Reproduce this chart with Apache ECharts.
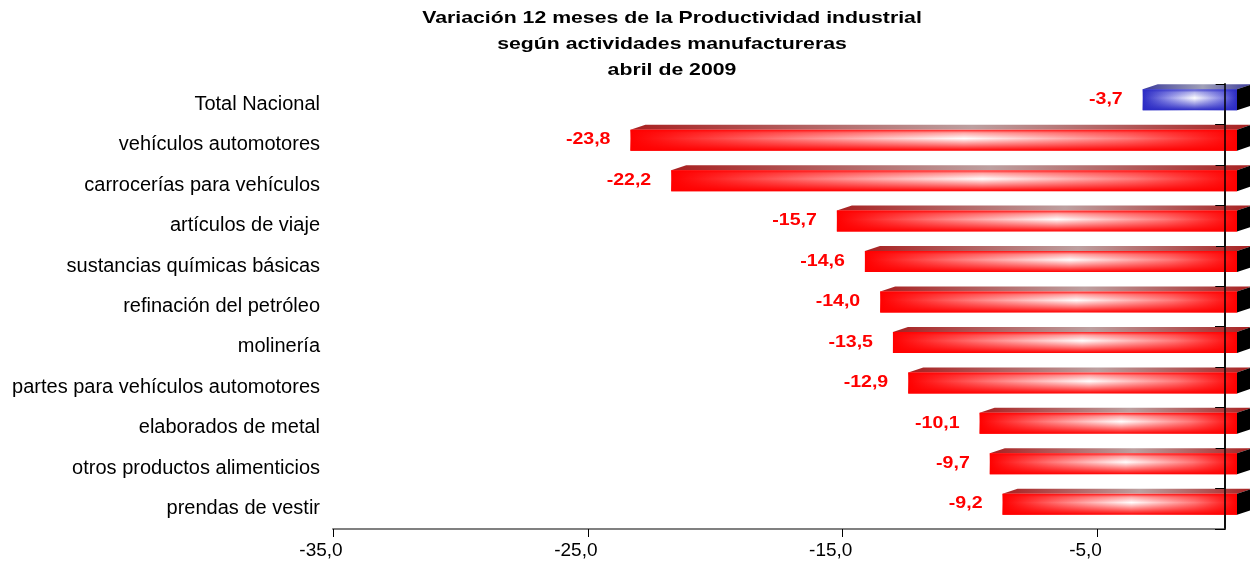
<!DOCTYPE html>
<html>
<head>
<meta charset="utf-8">
<script src="https://cdn.jsdelivr.net/npm/echarts@6/dist/echarts.min.js"></script>
<style>
  html, body { margin: 0; padding: 0; background: #fff; }
  #chart { width: 1250px; height: 562px; }
</style>
</head>
<body>
<div id="chart"></div>
<script>
// datos: variación 12 meses (%)
var categorias = [
    'Total Nacional',
    'vehículos automotores',
    'carrocerías para vehículos',
    'artículos de viaje',
    'sustancias químicas básicas',
    'refinación del petróleo',
    'molinería',
    'partes para vehículos automotores',
    'elaborados de metal',
    'otros productos alimenticios',
    'prendas de vestir'
];
var variacion = [-3.7, -23.8, -22.2, -15.7, -14.6, -14.0, -13.5, -12.9, -10.1, -9.7, -9.2];
var titulo = [
    'Variación 12 meses de la Productividad industrial',
    'según actividades manufactureras',
    'abril de 2009'
];

var fuente = '"Liberation Sans", Arial, sans-serif';

function fmt(v) {
    return v.toFixed(1).replace('.', ',');
}

function lin(x0, y0, x1, y1, stops) {
    return new echarts.graphic.LinearGradient(x0, y0, x1, y1, stops);
}

// barra "3D" dibujada con las escalas del eje
function renderItem(params, api) {
    var v = api.value(0);
    var idx = api.value(1);
    var pv = api.coord([v, idx]);
    var p0 = api.coord([0, idx]);
    var yc = pv[1];
    var sx = 12;           // desplazamiento de la cara frontal
    var dx = 15, dy = 5;   // profundidad
    var x0 = pv[0] + sx, x1 = p0[0] + sx;
    var top = yc - 15, bot = yc + 6;
    var total = categorias[idx] === 'Total Nacional';

    var c = total ? '43,43,196' : '255,0,0';
    var base = 'rgb(' + c + ')';
    var mid = total ? 'rgb(140,140,230)' : 'rgb(255,120,120)';
    var topL = total ? '#3A3A9A' : '#A82020';
    var topM = total ? '#A0A0B8' : '#BCA0A0';

    return {
        type: 'group',
        children: [
            {
                type: 'polygon',
                shape: { points: [[x0, top], [x0 + dx, top - dy], [x1 + dx, top - dy], [x1, top]] },
                style: { fill: lin(0, 0, 1, 0, [{ offset: 0, color: topL }, { offset: 0.55, color: topM }, { offset: 1, color: topL }]) }
            },
            {
                type: 'polygon',
                shape: { points: [[x1, top], [x1 + dx, top - dy], [x1 + dx, bot - dy], [x1, bot]] },
                style: { fill: '#000' }
            },
            {
                type: 'rect',
                shape: { x: x0, y: top, width: x1 - x0, height: bot - top },
                style: { fill: lin(0, 0, 1, 0, [
                    { offset: 0, color: base },
                    { offset: 0.25, color: mid },
                    { offset: 0.55, color: '#FFFFFF' },
                    { offset: 0.82, color: mid },
                    { offset: 1, color: base }
                ]) }
            },
            {
                type: 'rect',
                shape: { x: x0, y: top, width: x1 - x0, height: bot - top },
                style: { fill: lin(0, 0, 0, 1, [
                    { offset: 0, color: 'rgba(' + c + ',0.9)' },
                    { offset: 0.15, color: 'rgba(' + c + ',0.35)' },
                    { offset: 0.42, color: 'rgba(' + c + ',0)' },
                    { offset: 0.75, color: 'rgba(' + c + ',0.55)' },
                    { offset: 1, color: 'rgba(' + c + ',1)' }
                ]) }
            },
            {
                type: 'text',
                x: pv[0] - 8,
                y: yc - 5,
                scaleX: 1.15,
                style: {
                    text: fmt(v),
                    fill: '#FF0000',
                    font: 'bold 17px ' + fuente,
                    align: 'right',
                    verticalAlign: 'middle'
                }
            }
        ]
    };
}

var myChart = echarts.init(document.getElementById('chart'));

var option = {
    animation: false,
    backgroundColor: '#fff',
    graphic: titulo.map(function (t, i) {
        return {
            type: 'text',
            x: 672,
            y: 18 + i * 26,
            scaleX: 1.25,
            style: {
                text: t,
                fill: '#000',
                font: 'bold 17px ' + fuente,
                align: 'center',
                verticalAlign: 'middle'
            }
        };
    }),
    grid: { left: 333, right: 25, top: 84, bottom: 33, containLabel: false },
    xAxis: {
        type: 'value',
        min: -35,
        max: 0,
        interval: 10,
        splitLine: { show: false },
        axisLine: { show: true, lineStyle: { color: '#808080', width: 2 } },
        axisTick: { show: true, length: 8, lineStyle: { color: '#000' } },
        axisLabel: {
            showMaxLabel: false,
            margin: 12,
            padding: [0, 24, 0, 0],
            color: '#000',
            fontFamily: fuente,
            fontSize: 19,
            formatter: function (v) { return fmt(v); }
        }
    },
    yAxis: [
        {
            type: 'category',
            data: categorias,
            inverse: true,
            position: 'left',
            axisLine: { show: true, lineStyle: { color: '#000', width: 1.5 } },
            axisTick: { show: true, length: 10, lineStyle: { color: '#000' } },
            axisLabel: {
                margin: 13,
                color: '#000',
                fontFamily: fuente,
                fontSize: 20
            }
        },
        {
            type: 'category',
            data: categorias,
            inverse: true,
            position: 'right',
            z: 10,
            axisLine: { show: true, lineStyle: { color: '#000', width: 1.5 } },
            axisTick: { show: true, inside: true, length: 9, lineStyle: { color: '#000' } },
            axisLabel: { show: false }
        }
    ],
    series: [{
        type: 'custom',
        renderItem: renderItem,
        clip: false,
        encode: { x: 0, y: 1 },
        data: variacion.map(function (v, i) { return [v, i]; })
    }]
};

myChart.setOption(option);
</script>
</body>
</html>
